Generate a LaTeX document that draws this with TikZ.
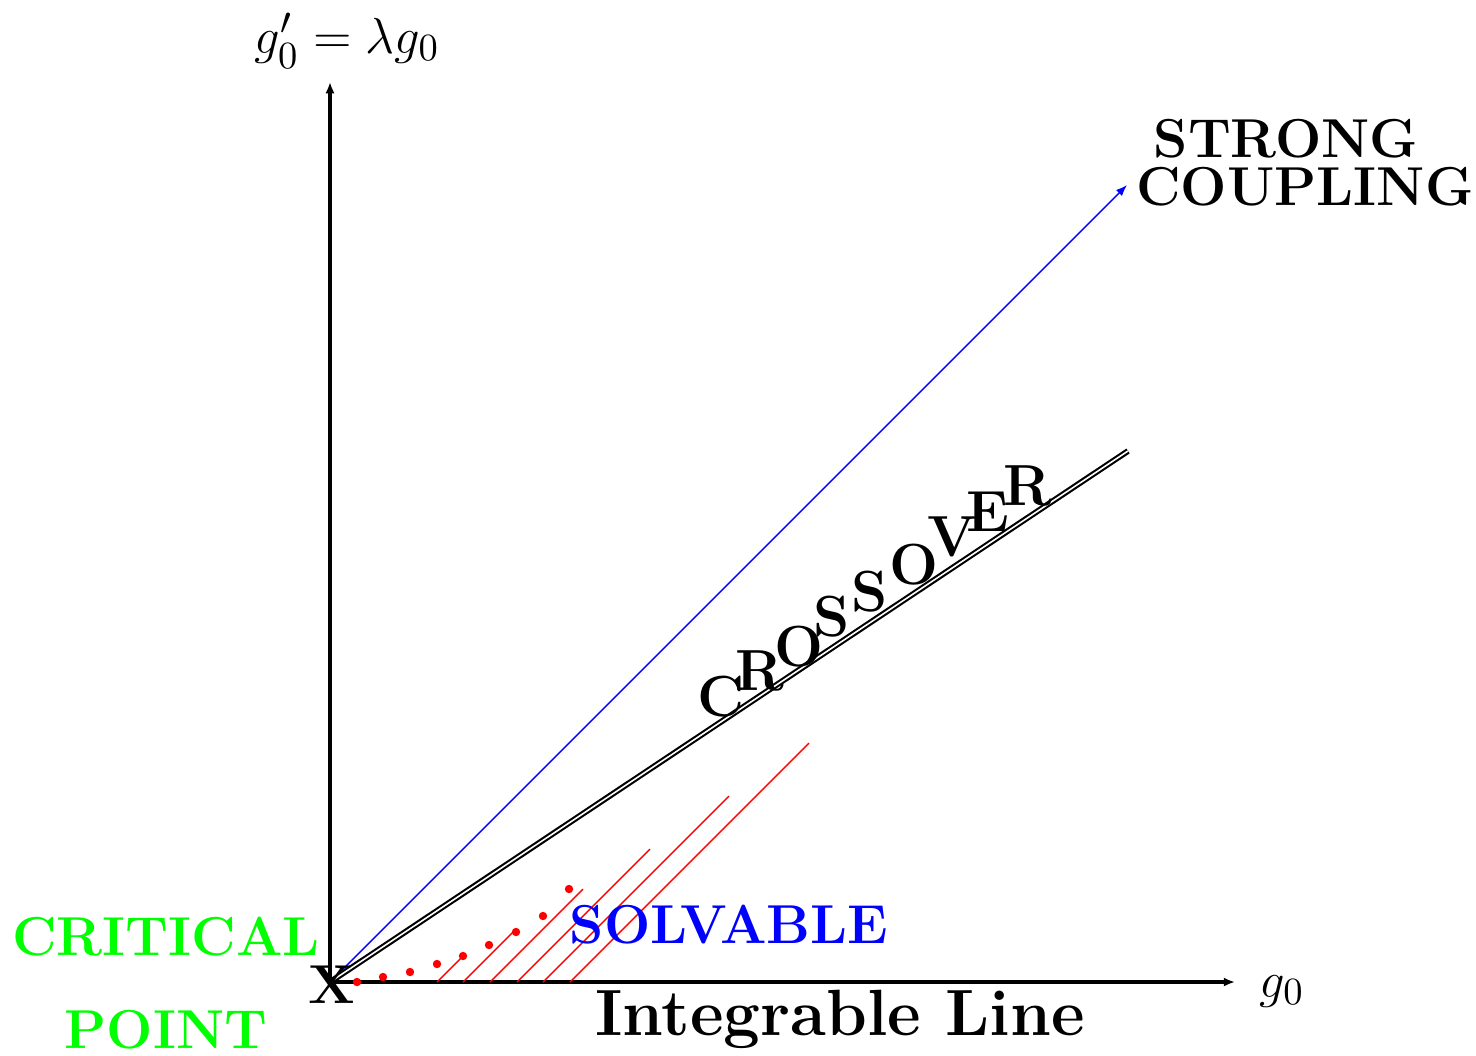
\documentclass[tikz,border=0pt]{standalone}
\usepackage{xcolor}
\usepackage{amsmath,amssymb}
\usepackage{tikz}
\usetikzlibrary{arrows.meta}
\definecolor{crit}{HTML}{00FF00}
\definecolor{solv}{HTML}{0000FF}
\definecolor{hat}{HTML}{FF0000}

\begin{document}
\begin{tikzpicture}[
  ax/.style={line width=1.2pt,-{Latex[length=3.2pt,width=2.6pt]}},
  big/.style={font=\fontsize{15.6}{18}\selectfont\bfseries,inner sep=0pt},
  lbl/.style={font=\fontsize{15.5}{18}\selectfont,inner sep=0pt},
  hatch/.style={draw=hat,line width=0.4pt},
  cross/.style={double,double distance=0.45pt,line width=0.6pt}]
\useasboundingbox (-3.30,-0.73) rectangle (11.46,9.82);
\coordinate (org) at (0,0);
\coordinate (ytop) at (0,9.00); \coordinate (xend) at (9.05,0);
\coordinate (strong) at (7.97,7.97); \coordinate (cend) at (7.98,5.31);
% axes
\draw[ax] (org) -- (ytop); \draw[ax] (org) -- (xend);
\node[lbl,anchor=base] (ylab) at (0.17,9.29) {$g_0'=\lambda g_0$};
\node[lbl,anchor=base] (xlab) at (9.52,-0.15) {$g_0$};
% solvable region
\foreach \a/\l in {1.07/0.26,1.33/0.53,1.60/0.93,1.87/1.33,2.13/1.86,2.40/2.39}
  {\draw[hatch] (\a,0) -- ++(\l,\l);}
\foreach \x/\y in {0.27/0,0.53/0.05,0.80/0.10,1.07/0.18,1.33/0.26,1.59/0.37,1.86/0.50,2.13/0.66,2.39/0.93}
  {\fill[hat] (\x,\y) circle (0.042);}
% flows
\draw[solv,line width=0.4pt,-{Latex[length=3.2pt,width=2.4pt]}] (org) -- (strong);
\draw[cross] (org) -- (cend);
\foreach \c/\x/\y [count=\i] in {C/3.91/2.85,R/4.30/3.11,O/4.69/3.35,S/5.02/3.65,S/5.40/3.90,O/5.84/4.17,V/6.22/4.45,E/6.58/4.70,R/6.98/4.96}
  {\node[big,font=\fontsize{16.5}{19}\selectfont\bfseries] (cr\i) at (\x,\y) {\c};}
\node[big] (x) at (0.02,-0.03) {X};
\node[big,anchor=base] (sc1) at (9.56,8.25) {STRONG};
\node[big,anchor=base] (sc2) at (9.75,7.77) {COUPLING};
\node[big,anchor=base,crit] (cp1) at (-1.64,0.27) {CRITICAL};
\node[big,anchor=base,crit] (cp2) at (-1.64,-0.66) {POINT};
\node[big,anchor=base,solv] (sv) at (3.99,0.39) {SOLVABLE};
\node[big,anchor=base,font=\fontsize{18.6}{21}\selectfont\bfseries] (il) at (5.10,-0.53) {Integrable Line};
\end{tikzpicture}
\end{document}
